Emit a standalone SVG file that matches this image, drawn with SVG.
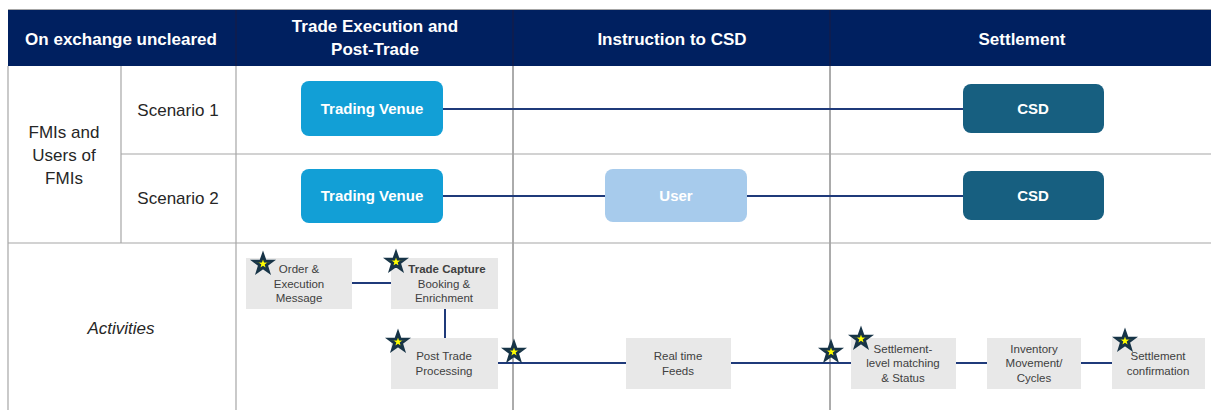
<svg xmlns="http://www.w3.org/2000/svg" width="1211" height="410" viewBox="0 0 1211 410">
  <defs>
    <style>
      .hdr { font-family: "Liberation Sans", Arial, sans-serif; font-weight: bold; font-size: 17px; fill: #ffffff; text-anchor: middle; }
      .lbl { font-family: "Liberation Sans", Arial, sans-serif; font-size: 17px; fill: #262626; text-anchor: middle; }
      .grid { stroke: #a6a6a6; stroke-width: 1.2; fill: none; }
      .vgrid { stroke: #595959; stroke-width: 1; fill: none; }
      .node-text { font-family: "Liberation Sans", Arial, sans-serif; font-weight: bold; font-size: 15px; fill: #ffffff; text-anchor: middle; }
      .act { fill: #e8e8e8; }
      .act-text { font-family: "Liberation Sans", Arial, sans-serif; font-size: 11.5px; fill: #404040; text-anchor: middle; }
      .link { stroke: #1f3a7a; stroke-width: 2; fill: none; }
      .star { fill: #ffff00; stroke: #173447; stroke-width: 3; stroke-linejoin: miter; }
    </style>
    <polygon id="star" points="0,-9 2.1,-2.9 8.6,-2.8 3.4,1.1 5.3,7.3 0,3.6 -5.3,7.3 -3.4,1.1 -8.6,-2.8 -2.1,-2.9"/>
  </defs>

  <rect width="1211" height="410" fill="#ffffff"/>

  <!-- header band -->
  <g id="header">
    <line x1="8" y1="9.5" x2="1211" y2="9.5" stroke="#a6a6a6" stroke-width="1"/>
    <rect x="8" y="10" width="1203" height="56" fill="#002060"/>
    <line x1="236" y1="10" x2="236" y2="66" stroke="#1a1a40" stroke-width="1"/>
    <line x1="513" y1="10" x2="513" y2="66" stroke="#1a1a40" stroke-width="1"/>
    <line x1="830" y1="10" x2="830" y2="66" stroke="#1a1a40" stroke-width="1"/>
    <text class="hdr" x="121" y="45">On exchange uncleared</text>
    <text class="hdr" x="375" y="32">Trade Execution and</text>
    <text class="hdr" x="375" y="55">Post-Trade</text>
    <text class="hdr" x="672" y="45">Instruction to CSD</text>
    <text class="hdr" x="1022" y="45">Settlement</text>
  </g>

  <!-- table grid -->
  <g id="grid">
    <line class="grid" x1="8" y1="66" x2="8" y2="410"/>
    <line class="grid" x1="121" y1="66" x2="121" y2="243"/>
    <line class="grid" x1="236" y1="66" x2="236" y2="410"/>
    <line class="vgrid" x1="513" y1="66" x2="513" y2="410"/>
    <line class="vgrid" x1="830" y1="66" x2="830" y2="410"/>
    <line class="grid" x1="121" y1="154" x2="1211" y2="154"/>
    <line class="grid" x1="8" y1="243" x2="1211" y2="243"/>
  </g>

  <!-- row labels -->
  <g id="row-labels">
    <text class="lbl" x="64" y="138">FMIs and</text>
    <text class="lbl" x="64" y="161">Users of</text>
    <text class="lbl" x="64" y="184">FMIs</text>
    <text class="lbl" x="178" y="116">Scenario 1</text>
    <text class="lbl" x="178" y="204">Scenario 2</text>
    <text class="lbl" x="121" y="334" font-style="italic">Activities</text>
  </g>

  <!-- connectors -->
  <g id="connectors">
    <line class="link" x1="443" y1="109" x2="963" y2="109"/>
    <line class="link" x1="443" y1="196" x2="605" y2="196"/>
    <line class="link" x1="747" y1="196" x2="963" y2="196"/>
    <line class="link" x1="352" y1="283" x2="391" y2="283"/>
    <line class="link" x1="445" y1="309" x2="445" y2="338"/>
    <line class="link" x1="498" y1="363" x2="626" y2="363"/>
    <line class="link" x1="731" y1="363" x2="851" y2="363"/>
    <line class="link" x1="956" y1="363" x2="987" y2="363"/>
    <line class="link" x1="1081" y1="363" x2="1112" y2="363"/>
  </g>

  <!-- scenario nodes -->
  <g id="tv1">
    <rect x="301" y="81" width="142" height="55" rx="8" fill="#129fd6"/>
    <text class="node-text" x="372" y="114">Trading Venue</text>
  </g>
  <g id="csd1">
    <rect x="963" y="84" width="141" height="49" rx="8" fill="#175f80"/>
    <text class="node-text" x="1033" y="114">CSD</text>
  </g>
  <g id="tv2">
    <rect x="301" y="169" width="142" height="54" rx="8" fill="#129fd6"/>
    <text class="node-text" x="372" y="201">Trading Venue</text>
  </g>
  <g id="user2">
    <rect x="605" y="169" width="142" height="53" rx="8" fill="#a7cbec"/>
    <text class="node-text" x="676" y="201">User</text>
  </g>
  <g id="csd2">
    <rect x="963" y="171" width="141" height="49" rx="8" fill="#175f80"/>
    <text class="node-text" x="1033" y="201">CSD</text>
  </g>

  <!-- activity nodes -->
  <g id="order-execution">
    <rect class="act" x="246" y="258" width="106" height="51"/>
    <text class="act-text" x="299" y="273">Order &amp;</text>
    <text class="act-text" x="299" y="288">Execution</text>
    <text class="act-text" x="299" y="302">Message</text>
  </g>
  <g id="trade-capture">
    <rect class="act" x="391" y="258" width="107" height="51"/>
    <text class="act-text" x="447" y="273" font-weight="bold" fill="#262626">Trade Capture</text>
    <text class="act-text" x="444" y="288">Booking &amp;</text>
    <text class="act-text" x="444" y="302">Enrichment</text>
  </g>
  <g id="post-trade">
    <rect class="act" x="391" y="338" width="107" height="51"/>
    <text class="act-text" x="444" y="360">Post Trade</text>
    <text class="act-text" x="444" y="375">Processing</text>
  </g>
  <g id="real-time-feeds">
    <rect class="act" x="626" y="338" width="105" height="51"/>
    <text class="act-text" x="678" y="360">Real time</text>
    <text class="act-text" x="678" y="375">Feeds</text>
  </g>
  <g id="settlement-matching">
    <rect class="act" x="851" y="338" width="105" height="51"/>
    <text class="act-text" x="903" y="353">Settlement-</text>
    <text class="act-text" x="903" y="367">level matching</text>
    <text class="act-text" x="903" y="382">&amp; Status</text>
  </g>
  <g id="inventory">
    <rect class="act" x="987" y="338" width="94" height="51"/>
    <text class="act-text" x="1034" y="353">Inventory</text>
    <text class="act-text" x="1034" y="367">Movement/</text>
    <text class="act-text" x="1034" y="382">Cycles</text>
  </g>
  <g id="settlement-confirmation">
    <rect class="act" x="1112" y="338" width="93" height="51"/>
    <text class="act-text" x="1158" y="360">Settlement</text>
    <text class="act-text" x="1158" y="375">confirmation</text>
  </g>

  <!-- markers on activities -->
  <g id="stars">
    <use href="#star" class="star" x="263" y="264"/>
    <use href="#star" class="star" x="396" y="262"/>
    <use href="#star" class="star" x="398" y="342"/>
    <use href="#star" class="star" x="514" y="352"/>
    <use href="#star" class="star" x="831" y="352"/>
    <use href="#star" class="star" x="861" y="339"/>
    <use href="#star" class="star" x="1125" y="341"/>
  </g>
</svg>
